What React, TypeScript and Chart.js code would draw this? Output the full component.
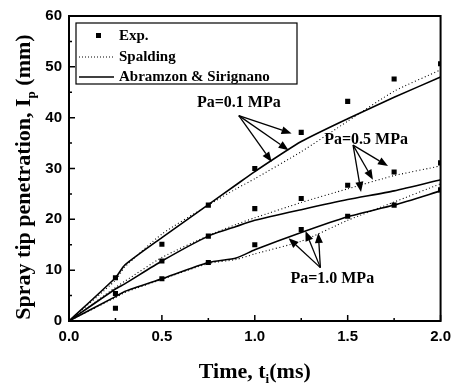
import React, { useEffect, useRef } from "react";
import { Chart, registerables } from "chart.js";

Chart.register(...registerables);

// ---- data ----
const timeExp = [0.25, 0.5, 0.75, 1.0, 1.25, 1.5, 1.75, 2.0];
const exp01 = [8.5, 15.1, 22.8, 30.0, 37.1, 43.2, 47.6, 50.6];
const exp05 = [5.4, 11.8, 16.7, 22.1, 24.1, 26.7, 29.3, 31.1];
const exp10 = [2.5, 8.3, 11.5, 15.0, 18.0, 20.6, 22.8, 25.8];

const timeModel = [0, 0.25, 0.3, 0.5, 0.75, 0.9, 1.0, 1.25, 1.5, 1.75, 2.0];
const as01 = [0, 8.5, 11.0, 16.4, 22.9, 26.8, 29.4, 35.3, 39.8, 44.0, 48.0];
const sp01 = [0, 8.0, 10.6, 17.1, 22.8, 26.0, 28.0, 33.3, 39.3, 45.2, 49.4];
const as05 = [0, 6.3, 7.3, 11.8, 16.7, 18.6, 19.8, 21.9, 23.9, 25.6, 27.8];
const sp05 = [0, 6.6, 7.8, 12.5, 16.8, 19.0, 20.3, 23.3, 26.0, 28.6, 30.5];
const as10 = [0, 4.8, 5.8, 8.3, 11.5, 12.4, 14.0, 17.4, 20.5, 22.8, 25.6];
const sp10 = [0, 4.6, 5.6, 8.2, 11.3, 12.1, 13.2, 15.7, 19.8, 23.4, 27.0];

const legendLabels = ["Exp.", "Spalding", "Abramzon & Sirignano"];
const xTitleMain = "Time, t";
const xTitleSub = "i";
const xTitleEnd = "(ms)";
const yTitleMain = "Spray tip penetration, I";
const yTitleSub = "p";
const yTitleEnd = " (mm)";

// annotation anchors in data units (time ms, mm)
const annLabels = ["Pa=0.1 MPa", "Pa=0.5 MPa", "Pa=1.0 MPa"];
const annLabelX = [0.914, 1.599, 1.417];
const annLabelY = [42.9, 35.7, 8.2];
const annFromX = [0.914, 1.529, 1.353];
const annFromY = [40.4, 34.6, 10.5];
const annTipX = [
  [1.198, 1.182, 1.091],
  [1.717, 1.636, 1.572],
  [1.182, 1.273, 1.342],
];
const annTipY = [
  [36.9, 33.6, 31.3],
  [30.5, 27.8, 25.4],
  [16.3, 17.7, 17.3],
];

const xMajor = [0, 0.5, 1.0, 1.5, 2.0];
const xMinor = [0.25, 0.75, 1.25, 1.75];
const yMajor = [0, 10, 20, 30, 40, 50, 60];
const yMinor = [5, 15, 25, 35, 45, 55];

const pts = (xs: number[], ys: number[]) => xs.map((x, i) => ({ x, y: ys[i] }));

const SERIF = "'Liberation Serif', 'Times New Roman', serif";
const SANS = "'Liberation Sans', Arial, sans-serif";

function drawArrow(ctx: CanvasRenderingContext2D, x1: number, y1: number, x2: number, y2: number) {
  const ang = Math.atan2(y2 - y1, x2 - x1);
  const head = 10;
  const hw = 4;
  const bx = x2 - head * Math.cos(ang);
  const by = y2 - head * Math.sin(ang);
  ctx.beginPath();
  ctx.moveTo(x1, y1);
  ctx.lineTo(bx, by);
  ctx.stroke();
  ctx.beginPath();
  ctx.moveTo(x2, y2);
  ctx.lineTo(bx + hw * Math.sin(ang), by - hw * Math.cos(ang));
  ctx.lineTo(bx - hw * Math.sin(ang), by + hw * Math.cos(ang));
  ctx.closePath();
  ctx.fill();
}

const decorPlugin = {
  id: "decor",
  afterDraw(chart: any) {
    const ctx: CanvasRenderingContext2D = chart.ctx;
    const { left, right, top, bottom } = chart.chartArea;
    const xs = chart.scales.x;
    const ys = chart.scales.y;
    ctx.save();
    ctx.strokeStyle = "#000";
    ctx.fillStyle = "#000";

    // frame
    ctx.lineWidth = 2;
    ctx.strokeRect(left, top, right - left, bottom - top);

    // inward ticks
    ctx.lineWidth = 1.5;
    ctx.beginPath();
    xMajor.forEach((v) => {
      const p = xs.getPixelForValue(v);
      ctx.moveTo(p, bottom);
      ctx.lineTo(p, bottom - 6);
    });
    xMinor.forEach((v) => {
      const p = xs.getPixelForValue(v);
      ctx.moveTo(p, bottom);
      ctx.lineTo(p, bottom - 3);
    });
    yMajor.forEach((v) => {
      const p = ys.getPixelForValue(v);
      ctx.moveTo(left, p);
      ctx.lineTo(left + 6, p);
    });
    yMinor.forEach((v) => {
      const p = ys.getPixelForValue(v);
      ctx.moveTo(left, p);
      ctx.lineTo(left + 3, p);
    });
    ctx.stroke();

    // x title
    ctx.textBaseline = "alphabetic";
    ctx.textAlign = "left";
    const mainFont = `bold 22px ${SERIF}`;
    const subFont = `bold 13px ${SERIF}`;
    ctx.font = mainFont;
    const w1 = ctx.measureText(xTitleMain).width;
    const w3 = ctx.measureText(xTitleEnd).width;
    ctx.font = subFont;
    const w2 = ctx.measureText(xTitleSub).width;
    const x0 = (left + right) / 2 - (w1 + w2 + w3) / 2;
    const yBase = 378;
    ctx.font = mainFont;
    ctx.fillText(xTitleMain, x0, yBase);
    ctx.font = subFont;
    ctx.fillText(xTitleSub, x0 + w1, yBase + 5);
    ctx.font = mainFont;
    ctx.fillText(xTitleEnd, x0 + w1 + w2, yBase);

    // y title
    ctx.save();
    ctx.translate(30, 177);
    ctx.rotate(-Math.PI / 2);
    ctx.font = mainFont;
    const v1 = ctx.measureText(yTitleMain).width;
    const v3 = ctx.measureText(yTitleEnd).width;
    ctx.font = subFont;
    const v2 = ctx.measureText(yTitleSub).width;
    const s0 = -(v1 + v2 + v3) / 2;
    ctx.font = mainFont;
    ctx.fillText(yTitleMain, s0, 0);
    ctx.font = subFont;
    ctx.fillText(yTitleSub, s0 + v1, 5);
    ctx.font = mainFont;
    ctx.fillText(yTitleEnd, s0 + v1 + v2, 0);
    ctx.restore();

    // legend
    const lx = left + 7;
    const ly = top + 7;
    ctx.lineWidth = 1.2;
    ctx.strokeRect(lx, ly, 221, 61);
    ctx.font = `bold 15px ${SERIF}`;
    ctx.textBaseline = "middle";
    const rows = [ly + 13, ly + 34, ly + 54];
    ctx.fillRect(lx + 20, rows[0] - 3, 5, 5);
    ctx.lineWidth = 1;
    ctx.setLineDash([1, 2]);
    ctx.beginPath();
    ctx.moveTo(lx + 3, rows[1]);
    ctx.lineTo(lx + 38, rows[1]);
    ctx.stroke();
    ctx.setLineDash([]);
    ctx.lineWidth = 1.5;
    ctx.beginPath();
    ctx.moveTo(lx + 3, rows[2]);
    ctx.lineTo(lx + 38, rows[2]);
    ctx.stroke();
    legendLabels.forEach((t, i) => ctx.fillText(t, lx + 43, rows[i]));

    // annotations
    ctx.font = `bold 16px ${SERIF}`;
    ctx.textAlign = "center";
    ctx.textBaseline = "middle";
    ctx.lineWidth = 1.3;
    annLabels.forEach((t, i) => {
      ctx.fillText(t, xs.getPixelForValue(annLabelX[i]), ys.getPixelForValue(annLabelY[i]));
      const fx = xs.getPixelForValue(annFromX[i]);
      const fy = ys.getPixelForValue(annFromY[i]);
      annTipX[i].forEach((tx, j) => {
        drawArrow(ctx, fx, fy, xs.getPixelForValue(tx), ys.getPixelForValue(annTipY[i][j]));
      });
    });
    ctx.restore();
  },
};

export default function App() {
  const ref = useRef<HTMLCanvasElement | null>(null);
  useEffect(() => {
    if (!ref.current) return;
    const solid = (d: number[]) => ({
      data: pts(timeModel, d),
      borderColor: "#000",
      borderWidth: 1.6,
      pointRadius: 0,
      tension: 0.2,
      fill: false,
    });
    const dotted = (d: number[]) => ({
      data: pts(timeModel, d),
      borderColor: "#000",
      borderWidth: 1.1,
      borderDash: [1, 2.5],
      pointRadius: 0,
      tension: 0.2,
      fill: false,
    });
    const expd = (d: number[]) => ({
      data: pts(timeExp, d),
      showLine: false,
      pointStyle: "rect",
      pointRadius: 3.6,
      pointBackgroundColor: "#000",
      pointBorderWidth: 0,
      borderColor: "#000",
    });
    const tickFont = { family: SANS, weight: "bold" as const, size: 15 };
    const chart = new Chart(ref.current, {
      type: "line",
      data: {
        datasets: [
          { label: "Exp. 0.1", ...expd(exp01) },
          { label: "Exp. 0.5", ...expd(exp05) },
          { label: "Exp. 1.0", ...expd(exp10) },
          { label: "Spalding 0.1", ...dotted(sp01) },
          { label: "Spalding 0.5", ...dotted(sp05) },
          { label: "Spalding 1.0", ...dotted(sp10) },
          { label: "A&S 0.1", ...solid(as01) },
          { label: "A&S 0.5", ...solid(as05) },
          { label: "A&S 1.0", ...solid(as10) },
        ] as any,
      },
      options: {
        animation: false,
        responsive: false,
        maintainAspectRatio: false,
        layout: { padding: { top: 12, right: 15, left: 0, bottom: 0 } },
        plugins: { legend: { display: false }, tooltip: { enabled: false } },
        scales: {
          x: {
            type: "linear",
            min: 0,
            max: 2,
            grid: { display: false, drawTicks: false },
            border: { display: false },
            ticks: {
              stepSize: 0.5,
              color: "#000",
              font: tickFont,
              padding: 7,
              callback: (v: any) => Number(v).toFixed(1),
            },
            afterFit: (s: any) => {
              s.height = 65;
            },
          },
          y: {
            type: "linear",
            min: 0,
            max: 60,
            grid: { display: false, drawTicks: false },
            border: { display: false },
            ticks: { stepSize: 10, color: "#000", font: tickFont, padding: 7 },
            afterFit: (s: any) => {
              s.width = 69;
            },
          },
        },
      } as any,
      plugins: [decorPlugin],
    });
    return () => chart.destroy();
  }, []);
  return (
    <div style={{ position: "fixed", left: 0, top: 0, width: 458, height: 386, background: "#fff" }}>
      <canvas ref={ref} width={458} height={386} />
    </div>
  );
}
